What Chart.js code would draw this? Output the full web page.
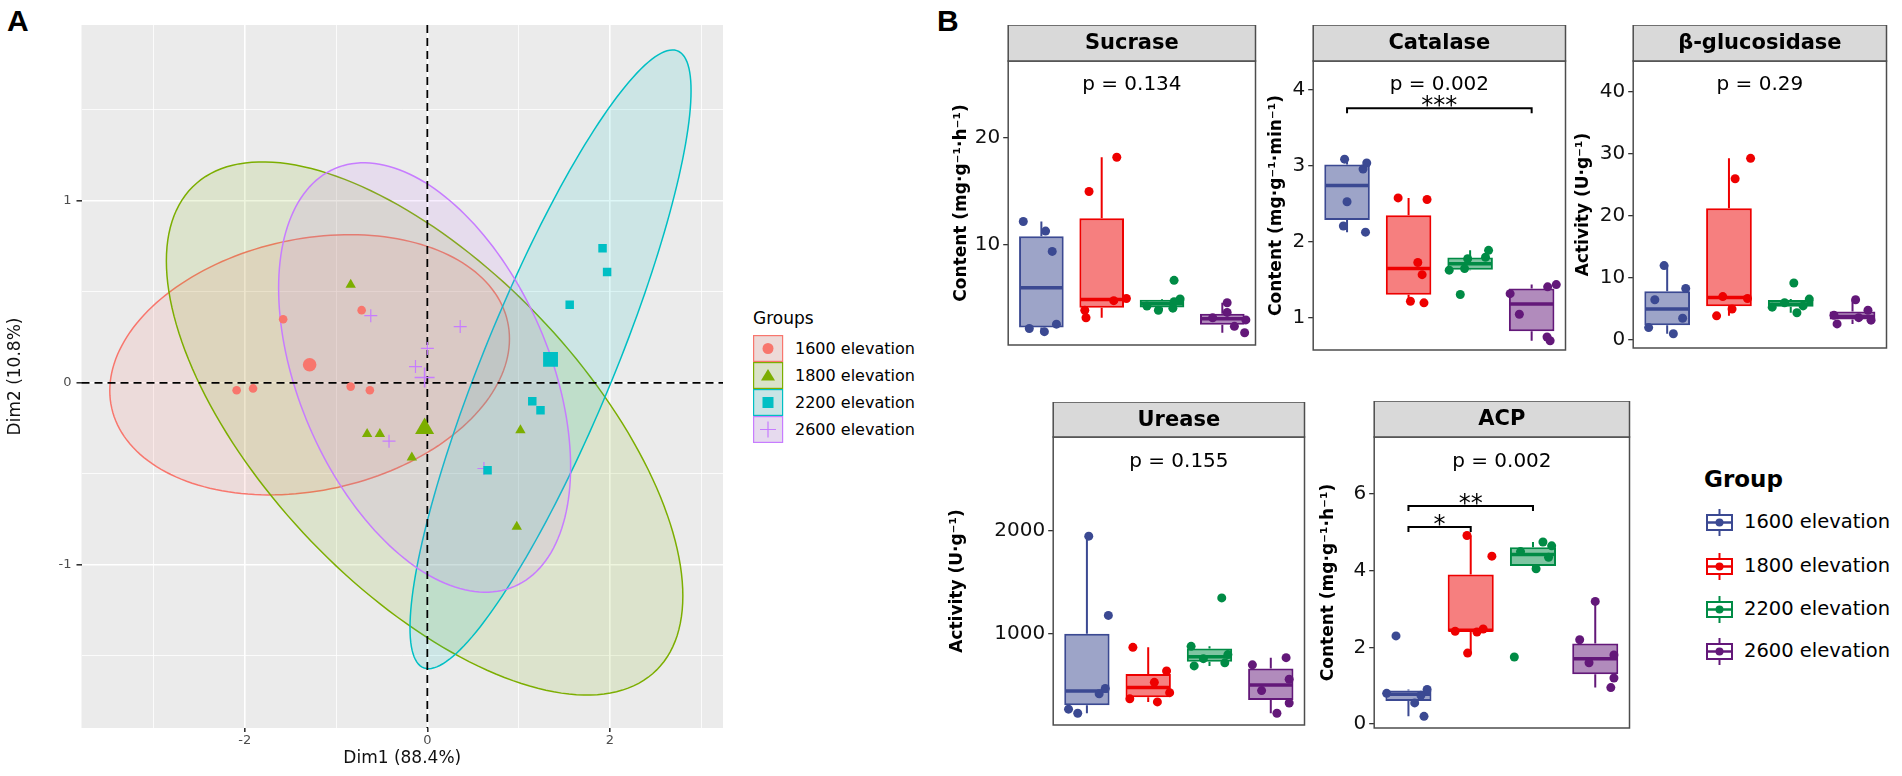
<!DOCTYPE html>
<html>
<head>
<meta charset="utf-8">
<script src="https://cdn.jsdelivr.net/npm/chart.js@4.4.1/dist/chart.umd.min.js"></script>
<style>
  html, body { margin: 0; padding: 0; background: #fff; }
  body { position: relative; width: 1902px; height: 776px; overflow: hidden; font-family: "DejaVu Sans", sans-serif; }
  canvas { position: absolute; }
  .txt { position: absolute; white-space: nowrap; color: #000; }
  .key { position: absolute; }
</style>
</head>
<body>
<div class="txt" style="left:7px;top:6px;font:bold 30px 'Liberation Sans';line-height:30px">A</div>
<div class="txt" style="left:937px;top:6px;font:bold 30px 'Liberation Sans';line-height:30px">B</div>
<canvas id="pca"></canvas>
<div id="legendA"></div>
<canvas id="sucrase"></canvas>
<canvas id="catalase"></canvas>
<canvas id="glucosidase"></canvas>
<canvas id="urease"></canvas>
<canvas id="acp"></canvas>
<div id="legendB"></div>
<script>
// ===== DATA =====
const groupLabels = ['1600 elevation', '1800 elevation', '2200 elevation', '2600 elevation'];

// Panel A: PCA individuals (Dim1, Dim2)
const dim1_1600 = [-1.58, -0.72, -2.09, -1.91, -0.84, -0.63];
const dim2_1600 = [0.35, 0.40, -0.04, -0.03, -0.02, -0.04];
const dim1_1800 = [-0.84, -0.66, -0.52, 1.02, -0.17, 0.98];
const dim2_1800 = [0.54, -0.28, -0.28, -0.26, -0.41, -0.79];
const dim1_2200 = [1.92, 1.97, 1.56, 1.15, 1.24, 0.66];
const dim2_2200 = [0.74, 0.61, 0.43, -0.10, -0.15, -0.48];
const dim1_2600 = [-0.62, 0.36, 0.00, -0.13, -0.42, 0.62];
const dim2_2600 = [0.37, 0.31, 0.19, 0.09, -0.32, -0.47];

// group mean points (Dim1, Dim2)
const meanDim1 = [-1.29, -0.03, 1.35, -0.03];
const meanDim2 = [0.10, -0.25, 0.13, 0.03];

// confidence ellipses: half extent in Dim1, half extent in Dim2, phase between them
const ellipseRx = [2.19, 2.83, 1.54, 1.60];
const ellipseRy = [0.715, 1.465, 1.70, 1.18];
const ellipsePhase = [1.37, 2.25, 0.52, 2.0];

// Panel B: enzyme activities, 6 samples per elevation
const sucrase1600 = [12.2, 11.3, 9.4, 2.6, 2.2, 1.9];
const sucrase1800 = [18.2, 15.0, 5.0, 4.8, 3.9, 3.2];
const sucrase2200 = [6.7, 4.95, 4.7, 4.3, 4.1, 3.9];
const sucrase2600 = [4.6, 3.7, 3.2, 3.0, 2.4, 1.8];

const catalase1600 = [3.09, 2.96, 3.04, 2.53, 2.21, 2.13];
const catalase1800 = [2.58, 2.56, 1.73, 1.57, 1.22, 1.20];
const catalase2200 = [1.31, 1.63, 1.65, 1.78, 1.80, 1.89];
const catalase2600 = [0.70, 0.75, 1.05, 1.32, 1.41, 1.44];

const gluco1600 = [1.0, 2.0, 3.5, 6.5, 8.3, 12.0];
const gluco1800 = [3.9, 5.0, 6.7, 7.0, 26.0, 29.3];
const gluco2200 = [4.4, 5.3, 5.5, 6.0, 6.6, 9.2];
const gluco2600 = [2.6, 3.2, 3.6, 4.0, 4.8, 6.5];

const urease1600 = [1950, 1180, 470, 420, 270, 230];
const urease1800 = [870, 640, 530, 430, 370, 340];
const urease2200 = [1350, 880, 800, 760, 720, 690];
const urease2600 = [770, 700, 560, 450, 330, 230];

const acp1600 = [2.3, 0.9, 0.8, 0.75, 0.55, 0.2];
const acp1800 = [4.92, 4.38, 2.48, 2.42, 2.40, 1.85];
const acp2200 = [4.75, 4.65, 4.5, 4.35, 4.05, 1.75];
const acp2600 = [3.2, 2.2, 1.8, 1.6, 1.2, 0.95];

// horizontal jitter of the points (category units)
const sucraseJitter = [[-0.30, 0.07, 0.18, 0.25, -0.20, 0.05], [0.25, -0.21, 0.41, 0.20, -0.28, -0.26], [0.20, 0.30, 0.20, -0.25, 0.18, -0.06], [0.08, 0.08, -0.16, 0.39, 0.20, 0.37]];
const catalaseJitter = [[-0.04, 0.26, 0.32, 0.00, -0.06, 0.30], [-0.17, 0.30, 0.15, 0.22, 0.03, 0.25], [-0.16, -0.34, -0.09, -0.04, 0.25, 0.30], [0.30, 0.25, -0.20, -0.35, 0.26, 0.40]];
const glucoJitter = [[0.10, -0.30, 0.25, -0.20, 0.30, -0.05], [-0.20, 0.05, 0.30, -0.10, 0.10, 0.35], [0.10, -0.30, 0.20, -0.10, 0.30, 0.05], [-0.25, 0.30, 0.10, -0.30, 0.25, 0.05]];
const ureaseJitter = [[0.03, 0.35, 0.30, 0.20, -0.30, -0.15], [-0.25, 0.30, 0.10, 0.35, -0.30, 0.15], [0.20, -0.30, 0.30, -0.10, 0.25, -0.25], [0.25, -0.30, 0.30, -0.15, 0.30, 0.10]];
const acpJitter = [[-0.20, 0.30, -0.35, 0.20, 0.10, 0.25], [-0.06, 0.34, 0.20, -0.25, 0.10, -0.05], [0.16, 0.30, -0.20, 0.25, 0.05, -0.30], [0.00, -0.25, 0.30, -0.10, 0.30, 0.25]];

// ===== STYLE =====
Chart.defaults.font.family = '"DejaVu Sans", sans-serif';
Chart.defaults.animation = false;

const pcaColors = ['#F8766D', '#7CAE00', '#00BFC4', '#C77CFF'];
const pcaShapes = ['circle', 'triangle', 'rect', 'cross'];
const pcaRadius = [4.3, 6, 6, 6.5];
const centroidRadius = [6.8, 11, 10.5, 10];
const groupColors = ['#3B4992', '#EE0000', '#008B45', '#631879'];

function rgba(hex, a) {
    const n = parseInt(hex.slice(1), 16);
    return `rgba(${n >> 16},${(n >> 8) & 255},${n & 255},${a})`;
}

// ===== PANEL A =====
const pcaX = [dim1_1600, dim1_1800, dim1_2200, dim1_2600];
const pcaY = [dim2_1600, dim2_1800, dim2_2200, dim2_2600];

const pcaPlugin = {
    id: 'pcaDecor',
    beforeDraw(chart) {
        const {ctx, chartArea: a} = chart;
        ctx.save();
        ctx.fillStyle = '#EBEBEB';
        ctx.fillRect(a.left, a.top, a.right - a.left, a.bottom - a.top);
        ctx.restore();
    },
    beforeDatasetsDraw(chart) {
        const {ctx, chartArea: a, scales: {x, y}} = chart;
        ctx.save();
        ctx.beginPath();
        ctx.rect(a.left, a.top, a.right - a.left, a.bottom - a.top);
        ctx.clip();
        groupLabels.forEach((g, i) => {
            const cx = meanDim1[i], cy = meanDim2[i];
            ctx.beginPath();
            for (let k = 0; k <= 180; k++) {
                const t = k / 180 * 2 * Math.PI;
                const px = x.getPixelForValue(cx + ellipseRx[i] * Math.cos(t));
                const py = y.getPixelForValue(cy + ellipseRy[i] * Math.cos(t - ellipsePhase[i]));
                if (k) ctx.lineTo(px, py); else ctx.moveTo(px, py);
            }
            ctx.closePath();
            ctx.fillStyle = rgba(pcaColors[i], 0.13);
            ctx.fill();
            ctx.strokeStyle = pcaColors[i];
            ctx.lineWidth = 1.5;
            ctx.stroke();
        });
        // zero reference lines
        ctx.setLineDash([8, 5]);
        ctx.strokeStyle = '#000';
        ctx.lineWidth = 1.8;
        const x0 = x.getPixelForValue(0), y0 = y.getPixelForValue(0);
        ctx.beginPath();
        ctx.moveTo(x0, a.top); ctx.lineTo(x0, a.bottom);
        ctx.moveTo(a.left, y0); ctx.lineTo(a.right, y0);
        ctx.stroke();
        ctx.restore();
    }
};

const isWhole = v => Math.abs(v - Math.round(v)) < 1e-9;
const majorX = v => isWhole(v) && Math.round(v) % 2 === 0;

const pcaDatasets = [];
groupLabels.forEach((g, i) => {
    pcaDatasets.push({
        label: g,
        data: pcaX[i].map((v, k) => ({x: v, y: pcaY[i][k]})),
        pointStyle: pcaShapes[i],
        pointRadius: pcaRadius[i],
        backgroundColor: pcaColors[i],
        borderColor: pcaColors[i],
        borderWidth: pcaShapes[i] === 'cross' ? 1.2 : 0
    });
    pcaDatasets.push({
        label: g + ' mean',
        data: [{x: meanDim1[i], y: meanDim2[i]}],
        pointStyle: pcaShapes[i],
        pointRadius: centroidRadius[i],
        backgroundColor: pcaColors[i],
        borderColor: pcaColors[i],
        borderWidth: pcaShapes[i] === 'cross' ? 1.6 : 0
    });
});

const pcaCanvas = document.getElementById('pca');
pcaCanvas.width = 745; pcaCanvas.height = 776;
pcaCanvas.style.left = '0px'; pcaCanvas.style.top = '0px';

new Chart(pcaCanvas, {
    type: 'scatter',
    data: {datasets: pcaDatasets},
    options: {
        responsive: false,
        layout: {padding: {top: 25, right: 22, left: 0, bottom: 0}},
        plugins: {legend: {display: false}, tooltip: {enabled: false}},
        scales: {
            x: {
                type: 'linear', min: -3.79, max: 3.24,
                ticks: {stepSize: 1, includeBounds: false, autoSkip: false, maxRotation: 0,
                    callback: v => majorX(v) ? String(Math.round(v)) : '',
                    font: {size: 13}, color: '#4D4D4D', padding: 1},
                grid: {color: '#FFFFFF', lineWidth: c => (c.tick && majorX(c.tick.value)) ? 1.6 : 0.8,
                    tickColor: c => (c.tick && majorX(c.tick.value)) ? '#333333' : 'rgba(0,0,0,0)', tickLength: 4},
                border: {display: false},
                title: {display: true, text: 'Dim1 (88.4%)', font: {size: 17}, color: '#111', padding: {top: 0, bottom: 7}},
                afterFit: s => { s.height = 48; }
            },
            y: {
                type: 'linear', min: -1.896, max: 1.967,
                ticks: {stepSize: 0.5, includeBounds: false, autoSkip: false,
                    callback: v => isWhole(v) ? String(Math.round(v)) : '',
                    font: {size: 13}, color: '#4D4D4D', padding: 5},
                grid: {color: '#FFFFFF', lineWidth: c => (c.tick && isWhole(c.tick.value)) ? 1.6 : 0.8,
                    tickColor: c => (c.tick && isWhole(c.tick.value)) ? '#333333' : 'rgba(0,0,0,0)', tickLength: 5},
                border: {display: false},
                title: {display: true, text: 'Dim2 (10.8%)', font: {size: 17}, color: '#111', padding: {top: 5, bottom: 0}},
                afterFit: s => { s.width = 81.5; }
            }
        }
    },
    plugins: [pcaPlugin]
});

// Legend A
function shapeSvg(i, cx, cy) {
    const c = pcaColors[i];
    if (i === 0) return `<circle cx="${cx}" cy="${cy}" r="5.5" fill="${c}"/>`;
    if (i === 1) return `<polygon points="${cx},${cy - 6.5} ${cx + 7},${cy + 5} ${cx - 7},${cy + 5}" fill="${c}"/>`;
    if (i === 2) return `<rect x="${cx - 5.5}" y="${cy - 5.5}" width="11" height="11" fill="${c}"/>`;
    return `<path d="M${cx - 8} ${cy} H${cx + 8} M${cx} ${cy - 8} V${cy + 8}" stroke="${c}" stroke-width="1.2"/>`;
}
(function buildLegendA() {
    let html = `<div class="txt" style="left:753px;top:308px;font-size:17px;line-height:21px">Groups</div>`;
    groupLabels.forEach((g, i) => {
        const cy = 348.5 + 27 * i;
        html += `<svg class="key" style="left:753px;top:${cy - 13.5}px" width="31" height="27">
            <rect x="0.6" y="0.6" width="29" height="25.8" fill="#EBEBEB"/>
            <rect x="0.6" y="0.6" width="29" height="25.8" fill="${rgba(pcaColors[i], 0.15)}" stroke="${pcaColors[i]}" stroke-width="1.2"/>
            ${shapeSvg(i, 15, 13.5)}</svg>`;
        html += `<div class="txt" style="left:795px;top:${cy - 10}px;font-size:16px;line-height:20px">${g}</div>`;
    });
    document.getElementById('legendA').innerHTML = html;
})();

// ===== PANEL B =====
function quantile(sorted, p) {
    const pos = (sorted.length - 1) * p;
    const lo = Math.floor(pos), hi = Math.ceil(pos);
    return sorted[lo] + (sorted[hi] - sorted[lo]) * (pos - lo);
}
function boxStats(vals) {
    const s = [...vals].sort((a, b) => a - b);
    const q1 = quantile(s, 0.25), med = quantile(s, 0.5), q3 = quantile(s, 0.75);
    const iqr = q3 - q1;
    const lo = s.find(v => v >= q1 - 1.5 * iqr);
    const hi = [...s].reverse().find(v => v <= q3 + 1.5 * iqr);
    return {q1, med, q3, lo, hi};
}

const facets = [
    {id: 'sucrase', name: 'Sucrase', title: 'Content (mg·g⁻¹·h⁻¹)',
     values: [sucrase1600, sucrase1800, sucrase2200, sucrase2600], jitter: sucraseJitter,
     min: 0.654, max: 27.2, step: 10, pText: 'p = 0.134', pY: 25, brackets: [],
     left: 1008, right: 1258, stripTop: 25, top: 61, bottom: 345, titleX: 961},
    {id: 'catalase', name: 'Catalase', title: 'Content (mg·g⁻¹·min⁻¹)',
     values: [catalase1600, catalase1800, catalase2200, catalase2600], jitter: catalaseJitter,
     min: 0.579, max: 4.382, step: 1, pText: 'p = 0.002', pY: 4.07,
     brackets: [{from: 0, to: 3, y: 3.76, label: '***'}],
     left: 1313, right: 1568, stripTop: 25, top: 61, bottom: 350, titleX: 1276},
    {id: 'glucosidase', name: 'β-glucosidase', title: 'Activity (U·g⁻¹)',
     values: [gluco1600, gluco1800, gluco2200, gluco2600], jitter: glucoJitter,
     min: -1.29, max: 45.0, step: 10, pText: 'p = 0.29', pY: 41.1, brackets: [],
     left: 1633, right: 1889, stripTop: 25, top: 61, bottom: 348, titleX: 1583},
    {id: 'urease', name: 'Urease', title: 'Activity (U·g⁻¹)',
     values: [urease1600, urease1800, urease2200, urease2600], jitter: ureaseJitter,
     min: 116, max: 2913, step: 1000, pText: 'p = 0.155', pY: 2670, brackets: [],
     left: 1053, right: 1307, stripTop: 402, top: 437, bottom: 725, titleX: 957},
    {id: 'acp', name: 'ACP', title: 'Content (mg·g⁻¹·h⁻¹)',
     values: [acp1600, acp1800, acp2200, acp2600], jitter: acpJitter,
     min: -0.104, max: 7.49, step: 2, pText: 'p = 0.002', pY: 6.84,
     brackets: [{from: 0, to: 2, y: 5.69, label: '**'}, {from: 0, to: 1, y: 5.14, label: '*'}],
     left: 1374, right: 1632, stripTop: 401, top: 437, bottom: 728, titleX: 1328}
];

function facetPlugin(f, stats) {
    return {
        id: 'facet_' + f.id,
        beforeDatasetsDraw(chart) {
            const {ctx, scales: {x, y}} = chart;
            ctx.save();
            ctx.lineWidth = 2;
            stats.forEach((s, i) => {
                const px = x.getPixelForValue(i);
                ctx.strokeStyle = groupColors[i];
                ctx.beginPath();
                ctx.moveTo(px, y.getPixelForValue(s.hi)); ctx.lineTo(px, y.getPixelForValue(s.q3));
                ctx.moveTo(px, y.getPixelForValue(s.q1)); ctx.lineTo(px, y.getPixelForValue(s.lo));
                ctx.stroke();
            });
            ctx.restore();
        },
        afterDatasetDraw(chart, args) {
            if (args.meta.type !== 'bar') return;
            const {ctx, scales: {y}} = chart;
            ctx.save();
            ctx.lineWidth = 3.5;
            stats.forEach((s, i) => {
                const b = args.meta.data[i];
                const py = y.getPixelForValue(s.med);
                ctx.strokeStyle = groupColors[i];
                ctx.beginPath();
                ctx.moveTo(b.x - b.width / 2 + 1, py); ctx.lineTo(b.x + b.width / 2 - 1, py);
                ctx.stroke();
            });
            ctx.restore();
        },
        afterDraw(chart) {
            const {ctx, chartArea: a, scales: {x, y}} = chart;
            const stripH = f.top - f.stripTop;
            ctx.save();
            // panel border
            ctx.strokeStyle = '#4D4D4D';
            ctx.lineWidth = 1.5;
            ctx.strokeRect(a.left, a.top, a.right - a.left, a.bottom - a.top);
            // strip
            ctx.fillStyle = '#D9D9D9';
            ctx.fillRect(a.left, a.top - stripH, a.right - a.left, stripH);
            ctx.strokeRect(a.left, a.top - stripH, a.right - a.left, stripH);
            ctx.fillStyle = '#000';
            ctx.font = 'bold 21px "DejaVu Sans"';
            ctx.textAlign = 'center';
            ctx.textBaseline = 'middle';
            ctx.fillText(f.name, (a.left + a.right) / 2, a.top - stripH / 2 + 1);
            // p-value
            ctx.font = '20px "DejaVu Sans"';
            ctx.fillText(f.pText, x.getPixelForValue(1.5), y.getPixelForValue(f.pY));
            // significance brackets
            ctx.lineWidth = 2;
            ctx.strokeStyle = '#000';
            ctx.font = '24px "DejaVu Sans"';
            ctx.textBaseline = 'alphabetic';
            f.brackets.forEach(br => {
                const x1 = x.getPixelForValue(br.from), x2 = x.getPixelForValue(br.to);
                const py = y.getPixelForValue(br.y);
                ctx.beginPath();
                ctx.moveTo(x1, py + 5); ctx.lineTo(x1, py); ctx.lineTo(x2, py); ctx.lineTo(x2, py + 5);
                ctx.stroke();
                ctx.fillText(br.label, (x1 + x2) / 2, py + 5);
            });
            ctx.restore();
        }
    };
}

facets.forEach(f => {
    const canvas = document.getElementById(f.id);
    const left = f.titleX - 10.2;
    const width = f.right + 2 - left;
    const height = f.bottom + 16 - f.stripTop;
    canvas.width = Math.round(width);
    canvas.height = height;
    canvas.style.left = left + 'px';
    canvas.style.top = f.stripTop + 'px';

    const stats = f.values.map(boxStats);
    const points = [], pointColors = [];
    f.values.forEach((vals, i) => vals.forEach((v, k) => {
        points.push({x: i + f.jitter[i][k], y: v});
        pointColors.push(groupColors[i]);
    }));

    new Chart(canvas, {
        type: 'bar',
        data: {
            datasets: [
                {type: 'scatter', data: points, pointBackgroundColor: pointColors, pointBorderWidth: 0,
                 pointRadius: 4.5, order: 1},
                {type: 'bar', data: stats.map((s, i) => ({x: i, y: [s.q1, s.q3]})),
                 backgroundColor: groupColors.map(c => rgba(c, 0.5)), borderColor: groupColors,
                 borderWidth: 2, borderSkipped: false, categoryPercentage: 1, barPercentage: 0.74, order: 2}
            ]
        },
        options: {
            responsive: false,
            layout: {padding: {top: f.top - f.stripTop, bottom: 16, right: 2 + (canvas.width - width), left: 0}},
            plugins: {legend: {display: false}, tooltip: {enabled: false}},
            scales: {
                x: {type: 'linear', min: -0.55, max: 3.55, offset: false, display: false,
                    ticks: {stepSize: 1, includeBounds: false}},
                y: {type: 'linear', min: f.min, max: f.max, beginAtZero: false,
                    ticks: {stepSize: f.step, includeBounds: false, font: {size: 20}, color: '#111', padding: 3,
                        callback: v => String(v)},
                    afterBuildTicks: s => {
                        const ticks = [];
                        for (let v = Math.ceil(f.min / f.step) * f.step; v <= f.max; v += f.step) ticks.push({value: v});
                        s.ticks = ticks;
                    },
                    grid: {drawOnChartArea: false, drawTicks: true, tickLength: 5, color: '#333', lineWidth: 1.3},
                    border: {display: false},
                    title: {display: true, text: f.title, font: {size: 17, weight: 'bold'}, color: '#000',
                        padding: {top: 0, bottom: 0}},
                    afterFit: s => { s.width = f.left - left; }}
            }
        },
        plugins: [facetPlugin(f, stats)]
    });
});

// Legend B
(function buildLegendB() {
    let html = `<div class="txt" style="left:1704px;top:465px;font:bold 23px 'DejaVu Sans';line-height:28px">Group</div>`;
    const centers = [522, 566, 609, 651];
    groupLabels.forEach((g, i) => {
        const c = groupColors[i], cy = centers[i];
        html += `<svg class="key" style="left:1704px;top:${cy - 15.5}px" width="31" height="31">
            <line x1="15.5" y1="2" x2="15.5" y2="29" stroke="${c}" stroke-width="2"/>
            <rect x="3" y="8" width="25" height="15" fill="#fff" stroke="${c}" stroke-width="2"/>
            <line x1="3" y1="15.5" x2="28" y2="15.5" stroke="${c}" stroke-width="2.5"/>
            <circle cx="15.5" cy="15.5" r="4" fill="${c}"/></svg>`;
        html += `<div class="txt" style="left:1744px;top:${cy - 12}px;font-size:19.5px;line-height:24px">${g}</div>`;
    });
    document.getElementById('legendB').innerHTML = html;
})();
</script>
</body>
</html>
